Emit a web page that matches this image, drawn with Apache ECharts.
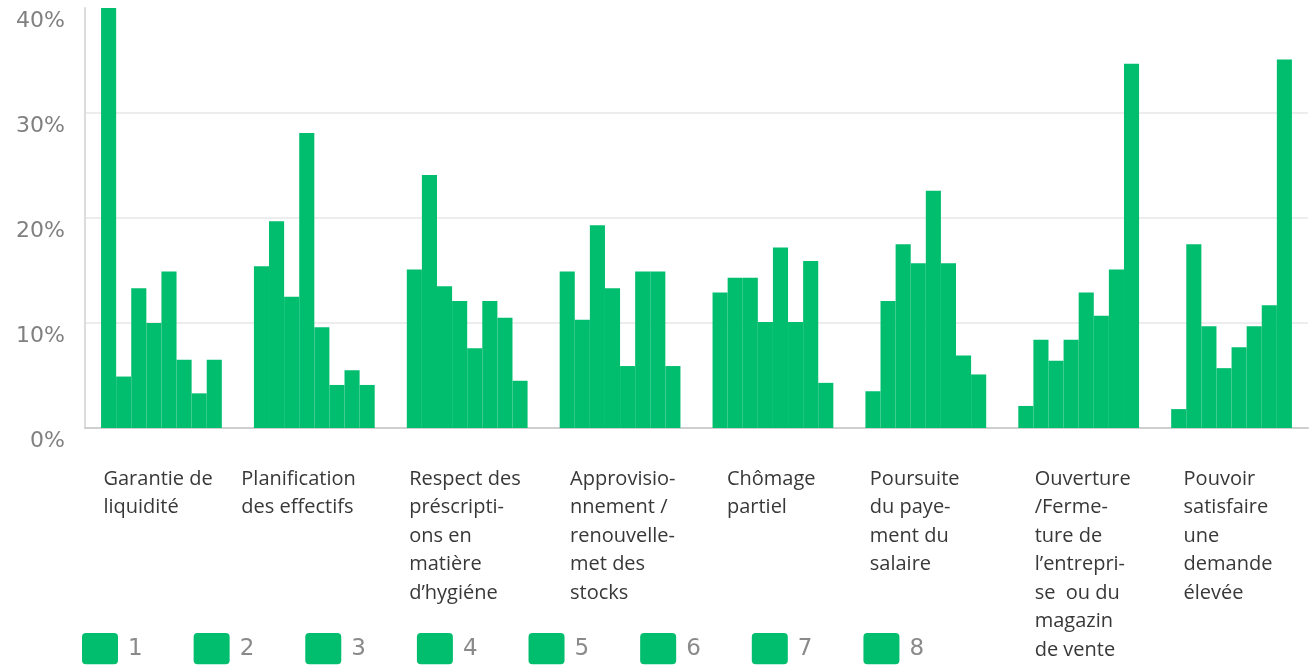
<!DOCTYPE html>
<html>
<head>
<meta charset="utf-8">
<script src="https://cdn.jsdelivr.net/npm/echarts@6/dist/echarts.min.js"></script>
<style>
html,body{margin:0;padding:0;background:#fff;}
#c{width:1314px;height:669px;}
</style>
</head>
<body>
<div id="c"></div>
<script>
const categories = [
  "Garantie de\nliquidité",
  "Planification\ndes effectifs",
  "Respect des\npréscripti-\nons en\nmatière\nd’hygiéne",
  "Approvisio-\nnnement /\nrenouvelle-\nmet des\nstocks",
  "Chômage\npartiel",
  "Poursuite\ndu paye-\nment du\nsalaire",
  "Ouverture\n/Ferme-\nture de\nl’entrepri-\nse  ou du\nmagazin\nde vente",
  "Pouvoir\nsatisfaire\nune\ndemande\nélevée"
];
const seriesNames = ["1","2","3","4","5","6","7","8"];
const s1 = [40, 15.4, 15.1, 14.9, 12.9, 3.5, 2.1, 1.8];
const s2 = [4.9, 19.7, 24.1, 10.3, 14.3, 12.1, 8.4, 17.5];
const s3 = [13.3, 12.5, 13.5, 19.3, 14.3, 17.5, 6.4, 9.7];
const s4 = [10.0, 28.1, 12.1, 13.3, 10.1, 15.7, 8.4, 5.7];
const s5 = [14.9, 9.6, 7.6, 5.9, 17.2, 22.6, 12.9, 7.7];
const s6 = [6.5, 4.1, 12.1, 14.9, 10.1, 15.7, 10.7, 9.7];
const s7 = [3.3, 5.5, 10.5, 14.9, 15.9, 6.9, 15.1, 11.7];
const s8 = [6.5, 4.1, 4.5, 5.9, 4.3, 5.1, 34.7, 35.1];
const yTicks = [0, 10, 20, 30, 40];

const allSeries = [s1, s2, s3, s4, s5, s6, s7, s8];
const green = '#00be6e';
// horizontal shift of each category label (left edge relative to category centre)
const labelShift = [58, 73, 58, 50, 46, 56, 44, 48];

const rich = {};
labelShift.forEach((w, i) => {
  rich['c' + i] = {
    width: w, align: 'left',
    fontFamily: 'Open Sans', fontSize: 20, lineHeight: 28.5, color: '#383838'
  };
});

const chart = echarts.init(document.getElementById('c'), null, {renderer: 'canvas'});
chart.setOption({
  animation: false,
  backgroundColor: '#fff',
  grid: {left: 85, right: 6, top: 8, bottom: 241, containLabel: false},
  legend: {
    data: seriesNames,
    left: 77, top: 628,
    icon: 'path://M4,0 H33 Q37,0 37,4 V28 Q37,32 33,32 H4 Q0,32 0,28 V4 Q0,0 4,0 Z',
    itemWidth: 36, itemHeight: 32, itemGap: 51,
    textStyle: {fontFamily: 'DejaVu Sans', fontSize: 23, color: '#8a8a8a', padding: [0,0,0,5]}
  },
  xAxis: {
    type: 'category',
    data: categories,
    axisLine: {show: true, lineStyle: {color: '#cfcfcf', width: 2}},
    axisTick: {show: false},
    axisLabel: {
      interval: 0, margin: 37, align: 'right', verticalAlign: 'top',
      formatter: function (v, i) { return '{c' + i + '|' + v + '}'; },
      rich: rich
    }
  },
  yAxis: {
    type: 'value', min: yTicks[0], max: yTicks[yTicks.length - 1], interval: 10,
    axisLine: {show: true, lineStyle: {color: '#dcdcdc', width: 2}},
    axisTick: {show: false},
    splitLine: {show: true, lineStyle: {color: ['#ededed', '#ededed', '#ededed', '#ededed', 'rgba(0,0,0,0)'], width: 2}},
    axisLabel: {
      formatter: '{value}%', margin: 20, verticalAlign: 'top', lineHeight: 26,
      fontFamily: 'DejaVu Sans', fontSize: 22, color: '#808080'
    }
  },
  series: allSeries.map((arr, k) => ({
    name: seriesNames[k],
    type: 'bar',
    data: arr,
    barGap: '0%',
    barCategoryGap: '21%',
    itemStyle: {color: green},
    emphasis: {disabled: true}
  }))
});
</script>
</body>
</html>
